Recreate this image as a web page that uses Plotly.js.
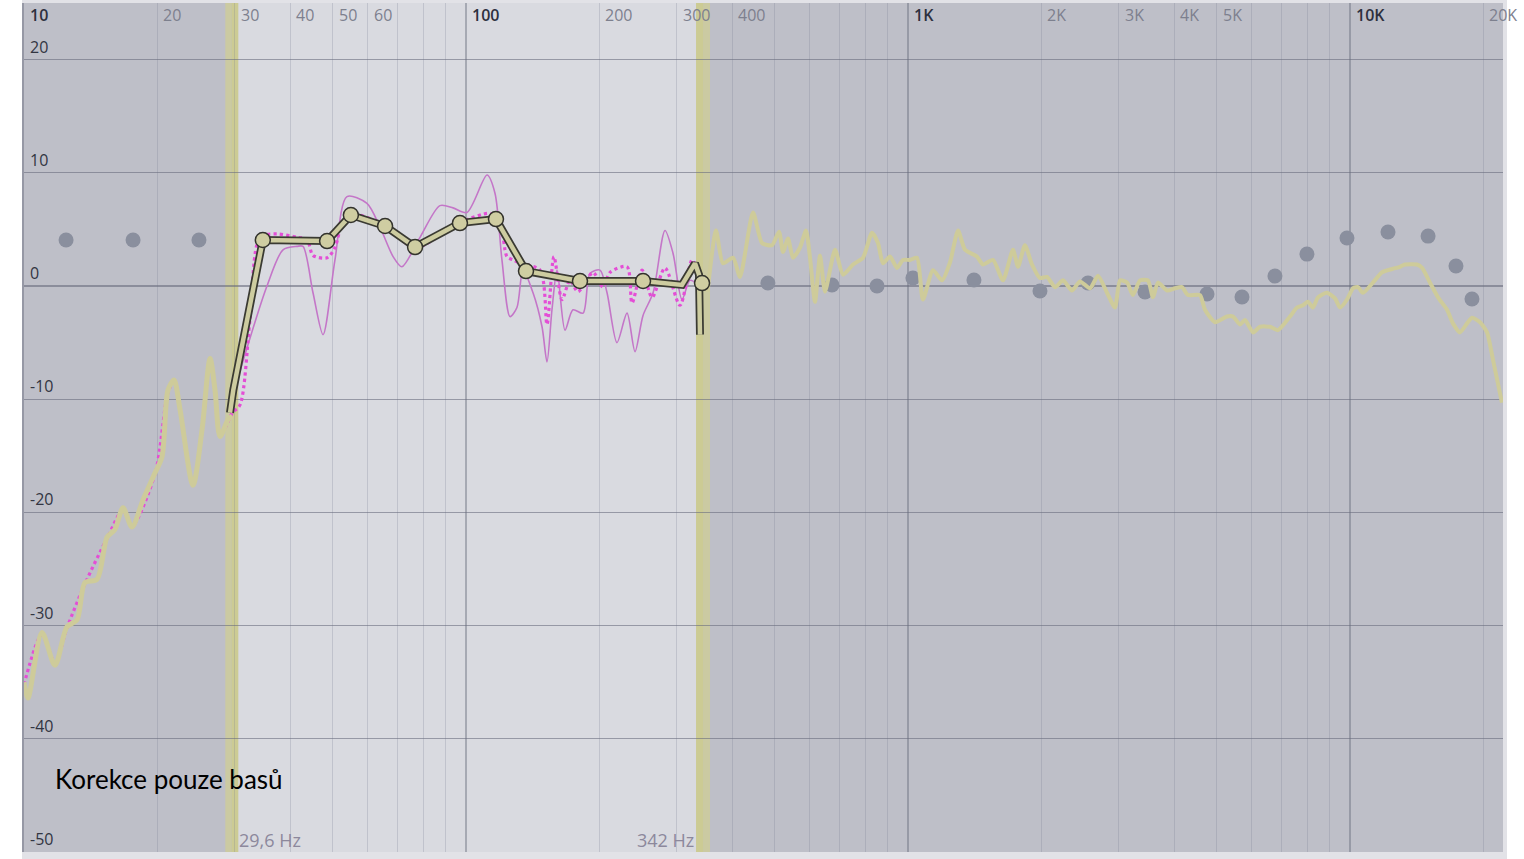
<!DOCTYPE html>
<html><head><meta charset="utf-8">
<script src="https://cdn.plot.ly/plotly-3.0.1.min.js"></script>
<style>html,body{margin:0;padding:0;background:#fff;}#chart{width:1524px;height:859px;}</style>
</head><body><div id="chart"></div>
<script>
// ---------- data ----------
const measLowFreq = [10, 10.21, 10.98, 11.75, 12.51, 13.18, 13.74, 14.63, 15.41, 16.06, 16.75, 17.55, 18.59, 19.79, 20.52, 21.17, 21.85, 22.54, 24.12, 25.28, 26.36, 27.05, 27.77, 28.95, 29.6];
const measLowDb   = [-35.0, -36.4, -30.6, -33.5, -30.1, -29.5, -26.2, -25.9, -22.2, -21.5, -19.6, -21.3, -18.9, -16.5, -15.1, -9.2, -8.3, -10.9, -17.6, -12.7, -6.4, -9.2, -13.3, -11.8, -11.5];

const measHighFreq = [352, 367.8, 381.4, 401.9, 416.8, 446, 467.4, 492.4, 510.7, 521.5, 535.3, 549.4, 569.8, 587.8, 600.2, 616.1, 632.4, 649.1, 683.8, 712.9, 750.9, 791.1, 828.9, 855.3, 877.9, 910.5, 944.3, 974.3, 1010, 1048, 1081, 1139, 1194, 1245, 1298, 1346, 1432, 1478, 1557, 1640, 1728, 1774, 1839, 1908, 1989, 2063, 2151, 2243, 2350, 2449, 2581, 2691, 2820, 2940, 3018, 3130, 3228, 3349, 3491, 3583, 3678, 3855, 4019, 4168, 4300, 4578, 4698, 4951, 5269, 5437, 5638, 5787, 6034, 6259, 6592, 6873, 7316, 7588, 7829, 8035, 8247, 8465, 8872, 9250, 9494, 9845, 10160, 10430, 10700, 11270, 11810, 12450, 12980, 13320, 14180, 14560, 15170, 15820, 16580, 17100, 17740, 18400, 18880, 19690, 20420, 21060, 22070];
const measHighDb   = [-0.5, 4.9, 2.0, 2.5, 0.8, 6.5, 3.8, 3.6, 4.8, 3.0, 4.2, 2.5, 3.4, 4.9, 2.5, -1.4, 2.7, -0.5, 3.2, 1.0, 1.9, 2.5, 4.7, 3.8, 2.0, 2.6, 1.6, 2.3, 2.3, 2.5, -1.2, 1.4, 0.5, 2.1, 4.9, 3.2, 2.6, 1.9, 2.3, 0.5, 3.2, 1.7, 3.6, 1.9, 0.7, 0.8, -0.1, 0.5, -0.4, 0.4, -0.2, 0.9, -0.6, -1.9, 0.5, 0.3, -0.8, 0.5, 0.5, -1.0, 0.3, -0.4, -0.2, -0.1, -0.8, -0.8, -2.1, -3.2, -2.7, -2.7, -3.4, -3.0, -4.1, -3.6, -3.6, -3.9, -2.7, -1.9, -1.7, -1.4, -1.9, -1.0, -0.6, -1.1, -1.9, -1.2, -0.2, -0.1, -0.6, 0.3, 1.2, 1.5, 1.7, 1.9, 1.9, 1.6, 0.3, -1.0, -2.1, -3.3, -4.1, -3.3, -2.8, -3.2, -4.1, -6.5, -10.3];

const origFreq = [30.82, 35.46, 38.55, 41.47, 42.78, 45.07, 47.49, 50.53, 53.8, 59.7, 63.9, 68.4, 71.6, 78.7, 87.3, 93.5, 100.5, 111.6, 116.3, 120.6, 125.8, 130.4, 134.6, 141.8, 148.6, 152.5, 156.5, 160.7, 167.5, 174.6, 184.0, 190.8, 201.0, 208.5, 219.6, 231.4, 241.2, 251.5, 265.0, 282.0, 294.0, 308.1, 321.2, 333.1];
const origDb   = [-7.5, 0, 3.2, 3.5, 3.5, -0.6, -4.3, 2.3, 7.9, 7.3, 5.2, 2.6, 1.7, 4.3, 7.1, 6.9, 6.5, 9.8, 8.2, 2.3, -2.7, -1.9, 1.4, -0.6, -3.6, -6.7, -2.1, 1.4, -3.9, -2.1, -2.4, 1.1, 1.4, -0.6, -5.0, -2.4, -5.8, -2.6, -0.6, 4.9, 2.9, -1.2, 0.5, 0.2];

const corrFreq = [10, 10.98, 11.75, 12.51, 13.74, 15.41, 16.75, 17.55, 19.79, 21.17, 21.85, 22.54, 24.12, 25.28, 26.36, 27.05, 27.77, 28.95, 29.6, 30.82, 32.45, 34.2, 37.35, 41.47, 43.69, 45.07, 48.5, 50.53, 52.7, 55.2, 65.6, 76.7, 96.9, 113.3, 119.4, 123.8, 127.8, 132.5, 147.1, 152.5, 158.1, 164.9, 171.9, 179.2, 193.8, 204.2, 211.8, 231.4, 237.5, 250.2, 263.6, 282.0, 304.9, 324.6, 333.2];
const corrDb   = [-35.2, -30.8, -33.3, -30.2, -26.3, -22.3, -19.8, -21.2, -16.6, -9.4, -8.4, -11.0, -17.5, -12.8, -6.5, -9.3, -13.2, -12.0, -11.2, -10.5, -3.0, 4.3, 4.6, 4.3, 4.1, 2.7, 2.5, 3.4, 5.8, 6.4, 5.3, 3.4, 5.6, 6.4, 5.6, 2.6, 2.3, 2.0, 1.4, -3.4, 2.6, -1.2, 0.5, -0.5, 1.2, -0.1, 1.2, 1.7, -1.5, 1.4, -1.0, 1.6, -1.7, 2.3, 1.4];

const targetFreq = [29.25, 29.75, 34.7, 48.5, 54.9, 65.6, 76.7, 96.9, 116.9, 136.7, 181.1, 251.5, 308.1, 329.7, 336.7, 338.4];
const targetDb   = [-11.2, -9.2, 4.06, 3.97, 6.27, 5.3, 3.44, 5.56, 5.91, 1.32, 0.44, 0.44, 0.1, 2.0, 1.0, -4.3];

const nodeFreq = [34.7, 48.5, 54.9, 65.6, 76.7, 96.9, 116.9, 136.7, 181.1, 251.5, 342];
const nodeDb   = [4.06, 3.97, 6.27, 5.3, 3.44, 5.56, 5.91, 1.32, 0.44, 0.44, 0.26];

const eqFreq = [12.45, 17.65, 24.88, 482, 673, 851, 1026, 1410, 1989, 2554, 3438, 4748, 5697, 6765, 7991, 9845, 12190, 15020, 17370, 18880];
const eqDb   = [4.06, 4.06, 4.06, 0.26, 0.09, 0, 0.71, 0.53, -0.44, 0.26, -0.53, -0.71, -0.97, 0.88, 2.82, 4.24, 4.77, 4.41, 1.77, -1.15];

const xTickFreqs  = [10, 20, 30, 40, 50, 60, 100, 200, 300, 400, 1000, 2000, 3000, 4000, 5000, 10000, 20000];
const xTickLabels = ['10', '20', '30', '40', '50', '60', '100', '200', '300', '400', '1K', '2K', '3K', '4K', '5K', '10K', '20K'];
const majorFreqs  = [10, 100, 1000, 10000];
const minorFreqs  = [20, 30, 40, 50, 60, 70, 80, 90, 200, 300, 400, 500, 600, 700, 800, 900, 2000, 3000, 4000, 5000, 6000, 7000, 8000, 9000, 20000];
const yTicks = [20, 10, 0, -10, -20, -30, -40, -50];

const corrLow = 29.6, corrHigh = 342;
const corrLowLabel = '29,6 Hz', corrHighLabel = '342 Hz';
const caption = 'Korekce pouze basů';

// ---------- layout helpers ----------
const X_RANGE = [1, 4.3462];
const Y_RANGE = [-50, 25];
const PLOT_W = 1479, PLOT_H = 849;
const xp = f => (Math.log10(f) - X_RANGE[0]) / (X_RANGE[1] - X_RANGE[0]);
const dx = p => p / PLOT_W;
const dy = p => p / PLOT_H;

const YEL = 'rgb(206,203,154)';
const traces = [
  {x: origFreq, y: origDb, mode: 'lines', line: {color: 'rgb(196,118,200)', width: 1.6, shape: 'spline', smoothing: 0.8}, hoverinfo: 'skip'},
  {x: corrFreq, y: corrDb, mode: 'lines', line: {color: 'rgb(228,78,214)', width: 3.2, dash: 'dot', shape: 'spline', smoothing: 0.8}, hoverinfo: 'skip'},
  {x: eqFreq, y: eqDb, mode: 'markers', marker: {size: 15, color: 'rgb(138,143,158)', line: {width: 0}}, hoverinfo: 'skip'},
  {x: measLowFreq, y: measLowDb, mode: 'lines', line: {color: YEL, width: 5, shape: 'spline', smoothing: 0.8}, hoverinfo: 'skip'},
  {x: measHighFreq, y: measHighDb, mode: 'lines', line: {color: YEL, width: 4, shape: 'spline', smoothing: 0.6}, hoverinfo: 'skip'},
  {x: targetFreq, y: targetDb, mode: 'lines', line: {color: 'rgb(58,58,50)', width: 8}, hoverinfo: 'skip'},
  {x: targetFreq, y: targetDb, mode: 'lines', line: {color: 'rgb(205,204,160)', width: 4.5}, hoverinfo: 'skip'},
  {x: nodeFreq, y: nodeDb, mode: 'markers', marker: {size: 15, color: 'rgb(207,205,162)', line: {color: 'rgb(50,50,44)', width: 1.5}}, hoverinfo: 'skip'}
];

const shapes = [
  // light "correction" region
  {type: 'rect', xref: 'x domain', yref: 'y domain', x0: xp(corrLow), x1: xp(corrHigh), y0: 0, y1: 1, fillcolor: 'rgb(217,218,224)', line: {width: 0}, layer: 'below'},
  // boundary bands
  {type: 'rect', xref: 'x domain', yref: 'y domain', x0: xp(corrLow) - dx(1), x1: xp(corrLow) + dx(6), y0: 0, y1: 1, fillcolor: 'rgb(204,203,148)', line: {width: 0}, layer: 'below'},
  {type: 'rect', xref: 'x domain', yref: 'y domain', x0: xp(corrLow) - dx(7), x1: xp(corrLow) - dx(1), y0: 0, y1: 1, fillcolor: 'rgb(203,202,162)', line: {width: 0}, layer: 'below'},
  {type: 'rect', xref: 'x domain', yref: 'y domain', x0: xp(corrHigh) - dx(6), x1: xp(corrHigh) + dx(1), y0: 0, y1: 1, fillcolor: 'rgb(204,203,148)', line: {width: 0}, layer: 'below'},
  {type: 'rect', xref: 'x domain', yref: 'y domain', x0: xp(corrHigh) + dx(1), x1: xp(corrHigh) + dx(8), y0: 0, y1: 1, fillcolor: 'rgb(203,202,162)', line: {width: 0}, layer: 'below'},
  // white page outside the frame
  {type: 'rect', xref: 'paper', yref: 'paper', x0: -dx(30), x1: -dx(2), y0: -dy(20), y1: 1 + dy(10), fillcolor: '#ffffff', line: {width: 0}, layer: 'below'},
  {type: 'rect', xref: 'paper', yref: 'paper', x0: 1 + dx(4), x1: 1 + dx(30), y0: -dy(20), y1: 1 + dy(10), fillcolor: '#ffffff', line: {width: 0}, layer: 'below'}
];

const annotations = [];
xTickFreqs.forEach((f, i) => {
  const major = majorFreqs.includes(f);
  annotations.push({xref: 'paper', yref: 'paper', x: xp(f) + dx(4), y: 1 - dy(12), xanchor: 'left', yanchor: 'middle', showarrow: false,
    text: xTickLabels[i], font: {family: 'Open Sans', size: 16, color: major ? 'rgb(45,48,62)' : 'rgb(125,128,142)', weight: major ? 600 : 400}});
});
yTicks.forEach(v => {
  annotations.push({xref: 'paper', yref: 'y', x: dx(4), y: v, yshift: 13, xanchor: 'left', yanchor: 'middle', showarrow: false,
    text: String(v), font: {family: 'Open Sans', size: 16, color: 'rgb(50,53,66)'}});
});
annotations.push({xref: 'paper', yref: 'paper', x: xp(corrLow) + dx(5), y: dy(12), xanchor: 'left', yanchor: 'middle', showarrow: false,
  text: corrLowLabel, font: {family: 'Open Sans', size: 18, color: 'rgb(140,136,156)'}});
annotations.push({xref: 'paper', yref: 'paper', x: xp(corrHigh) - dx(6), y: dy(12), xanchor: 'right', yanchor: 'middle', showarrow: false,
  text: corrHighLabel, font: {family: 'Open Sans', size: 18, color: 'rgb(140,136,156)'}});
annotations.push({xref: 'paper', yref: 'paper', x: dx(29), y: dy(73), xanchor: 'left', yanchor: 'middle', showarrow: false,
  text: caption, font: {family: 'Lato', size: 26, color: '#000000'}});

const layout = {
  width: 1524, height: 859,
  margin: {l: 24, r: 21, t: 3, b: 7, pad: 0},
  paper_bgcolor: 'rgb(226,226,231)',
  plot_bgcolor: 'rgb(190,191,200)',
  showlegend: false,
  xaxis: {type: 'log', range: X_RANGE, tickvals: majorFreqs, showticklabels: false, ticks: '', showgrid: true,
    gridcolor: 'rgba(105,108,125,0.45)', gridwidth: 1.3, zeroline: false, showline: false, fixedrange: true,
    minor: {tickvals: minorFreqs, showgrid: true, gridcolor: 'rgba(120,124,142,0.25)', gridwidth: 1, ticks: ''}},
  yaxis: {range: Y_RANGE, tickvals: yTicks, showticklabels: false, ticks: '', showgrid: true,
    gridcolor: 'rgba(105,108,125,0.6)', gridwidth: 1.3, zeroline: false, showline: true, linecolor: 'rgb(150,152,165)', linewidth: 2, fixedrange: true},
  shapes: shapes,
  annotations: annotations
};

Plotly.newPlot('chart', traces, layout, {displayModeBar: false, staticPlot: true});
</script>
</body></html>
